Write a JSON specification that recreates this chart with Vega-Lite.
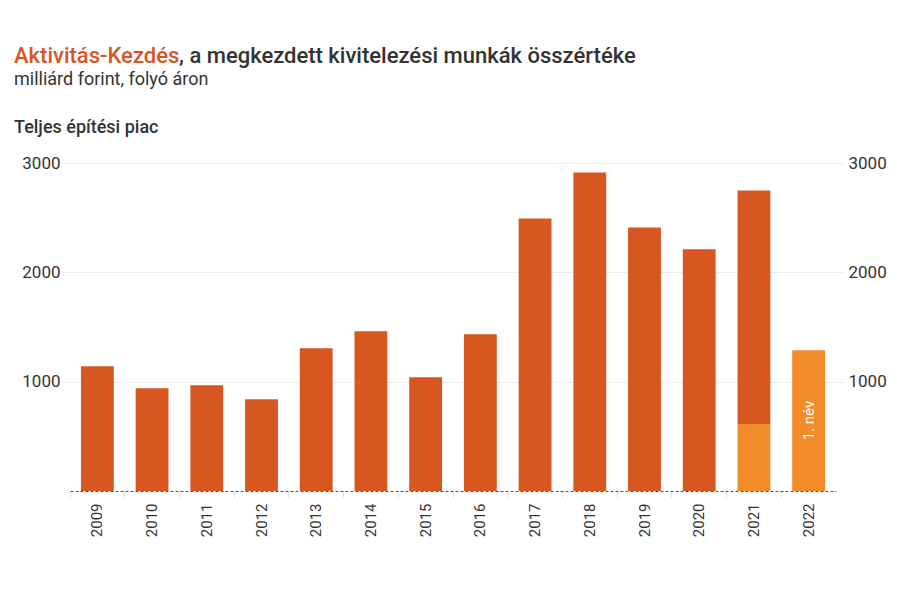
{
  "$schema": "https://vega.github.io/schema/vega-lite/v6.json",
  "width": 766,
  "height": 328,
  "autosize": {"type": "none"},
  "padding": {"left": 70, "top": 163, "right": 64, "bottom": 109},
  "background": "white",
  "config": {"font": "Roboto", "view": {"stroke": null}},
  "datasets": {
    "bars": [
      {"ev": "2009", "idoszak": "egész év", "ertek": 1140},
      {"ev": "2010", "idoszak": "egész év", "ertek": 940},
      {"ev": "2011", "idoszak": "egész év", "ertek": 968},
      {"ev": "2012", "idoszak": "egész év", "ertek": 840},
      {"ev": "2013", "idoszak": "egész év", "ertek": 1306},
      {"ev": "2014", "idoszak": "egész év", "ertek": 1461},
      {"ev": "2015", "idoszak": "egész év", "ertek": 1041},
      {"ev": "2016", "idoszak": "egész év", "ertek": 1434},
      {"ev": "2017", "idoszak": "egész év", "ertek": 2493},
      {"ev": "2018", "idoszak": "egész év", "ertek": 2913},
      {"ev": "2019", "idoszak": "egész év", "ertek": 2411},
      {"ev": "2020", "idoszak": "egész év", "ertek": 2210},
      {"ev": "2021", "idoszak": "egész év", "ertek": 2137},
      {"ev": "2021", "idoszak": "1. negyedév", "ertek": 612},
      {"ev": "2022", "idoszak": "1. negyedév", "ertek": 1288, "felirat": "1. név"}
    ]
  },
  "layer": [
    {
      "data": {"name": "bars"},
      "mark": {"type": "bar"},
      "encoding": {
        "x": {
          "field": "ev",
          "type": "ordinal",
          "scale": {"paddingInner": 0.4, "paddingOuter": 0.2},
          "axis": {
            "title": null,
            "labelAngle": -90,
            "labelAlign": "right",
            "labelBaseline": "middle",
            "labelFontSize": 15,
            "labelColor": "#333333",
            "tickColor": "#dddddd",
            "tickSize": 6,
            "labelPadding": 6,
            "bandPosition": -0.333,
            "domainDash": [3, 2],
            "domainColor": "#555555",
            "grid": false
          }
        },
        "y": {
          "field": "ertek",
          "type": "quantitative",
          "stack": "zero",
          "scale": {"domain": [0, 3000], "nice": false},
          "axis": {
            "title": null,
            "values": [1000, 2000, 3000],
            "format": "d",
            "domain": false,
            "grid": true,
            "gridColor": "#ececec",
            "tickColor": "#ececec",
            "tickSize": 8,
            "labelPadding": 2,
            "labelFontSize": 17,
            "labelColor": "#333333"
          }
        },
        "color": {
          "field": "idoszak",
          "type": "nominal",
          "scale": {"domain": ["egész év", "1. negyedév"], "range": ["#d8561f", "#f28c2b"]},
          "legend": null
        },
        "order": {"field": "idoszak", "sort": "ascending"}
      }
    },
    {
      "data": {"name": "bars"},
      "transform": [
        {"filter": "datum.felirat != null"},
        {"calculate": "datum.ertek / 2", "as": "kozep"}
      ],
      "mark": {"type": "text", "angle": 270, "align": "center", "baseline": "middle", "color": "white", "fontSize": 15},
      "encoding": {
        "x": {"field": "ev", "type": "ordinal"},
        "y": {
          "field": "kozep",
          "type": "quantitative",
          "scale": {"domain": [0, 3000], "nice": false},
          "axis": {
            "title": null,
            "orient": "right",
            "values": [1000, 2000, 3000],
            "format": "d",
            "domain": false,
            "grid": false,
            "tickColor": "#ececec",
            "tickSize": 8,
            "labelPadding": 4,
            "labelFontSize": 17,
            "labelColor": "#333333"
          }
        },
        "text": {"field": "felirat"}
      }
    },
    {
      "data": {"values": [{"t": "Aktivitás-Kezdés"}]},
      "mark": {"type": "text", "align": "left", "baseline": "alphabetic", "fontSize": 22, "fontWeight": 500, "color": "#d8561f"},
      "encoding": {"x": {"value": -56}, "y": {"value": -100}, "text": {"field": "t"}}
    },
    {
      "data": {"values": [{"t": ", a megkezdett kivitelezési munkák összértéke"}]},
      "mark": {"type": "text", "align": "left", "baseline": "alphabetic", "fontSize": 22, "fontWeight": 500, "color": "#333333"},
      "encoding": {"x": {"value": 109}, "y": {"value": -100}, "text": {"field": "t"}}
    },
    {
      "data": {"values": [{"t": "milliárd forint, folyó áron"}]},
      "mark": {"type": "text", "align": "left", "baseline": "alphabetic", "fontSize": 18, "color": "#333333"},
      "encoding": {"x": {"value": -56}, "y": {"value": -78}, "text": {"field": "t"}}
    },
    {
      "data": {"values": [{"t": "Teljes építési piac"}]},
      "mark": {"type": "text", "align": "left", "baseline": "alphabetic", "fontSize": 18, "fontWeight": 500, "color": "#333333"},
      "encoding": {"x": {"value": -56}, "y": {"value": -30}, "text": {"field": "t"}}
    }
  ],
  "resolve": {"scale": {"y": "independent"}}
}
